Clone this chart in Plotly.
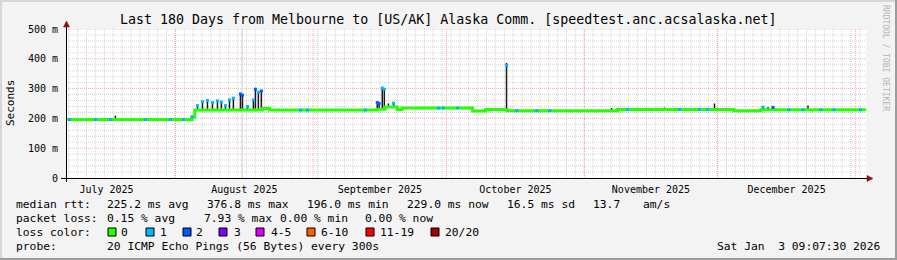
import pandas as pd
import plotly.graph_objects as go

# ---------------- data ----------------
title = "Last 180 Days from Melbourne to [US/AK] Alaska Comm. [speedtest.anc.acsalaska.net]"
x_start = "2025-07-07 09:07:30"
x_end = "2026-01-03 09:07:30"

month_starts = ["2025-08-01", "2025-09-01", "2025-10-01", "2025-11-01", "2025-12-01", "2026-01-01"]
month_label_pos = ["2025-07-16 12:00", "2025-08-16 12:00", "2025-09-16 00:00",
                   "2025-10-16 12:00", "2025-11-16 00:00", "2025-12-16 12:00"]
month_labels = ["July 2025", "August 2025", "September 2025", "October 2025",
                "November 2025", "December 2025"]
vrule_time = "2025-08-16 00:00"

y_ticks = [0, 100, 200, 300, 400, 500]
y_labels = ["0", "100 m", "200 m", "300 m", "400 m", "500 m"]

# median rtt (ms), step series
base_time = ["2025-07-07 09:07", "2025-08-04 18:00", "2025-08-05 09:00", "2025-08-20 14:00",
             "2025-08-22 04:00", "2025-09-15 10:00", "2025-09-17 04:00", "2025-09-19 21:00",
             "2025-09-21 00:00", "2025-10-06 21:00", "2025-10-09 19:00", "2025-10-14 14:00",
             "2025-11-08 11:00", "2025-12-04 15:00", "2025-12-10 17:00", "2026-01-03 09:07"]
base_rtt = [196, 205, 228, 233, 228, 231, 238, 230, 235, 225, 230, 226, 230, 226, 229, 229]

# spikes: time, base, peak (ms), loss class at peak
spike_time = ["2025-07-18 12:00", "2025-08-05 23:00", "2025-08-07 02:00", "2025-08-08 05:00",
              "2025-08-09 08:00", "2025-08-10 11:00", "2025-08-11 08:00", "2025-08-12 06:00",
              "2025-08-13 04:00", "2025-08-14 01:00", "2025-08-15 15:00", "2025-08-16 02:00",
              "2025-08-17 05:00", "2025-08-18 13:00", "2025-08-19 00:00", "2025-08-19 16:00",
              "2025-08-20 08:00", "2025-09-15 10:00", "2025-09-15 20:00", "2025-09-16 13:00",
              "2025-09-17 00:00", "2025-09-17 22:00", "2025-09-19 02:00", "2025-10-14 12:00",
              "2025-11-07 03:00", "2025-11-19 01:00", "2025-11-30 07:00", "2025-12-11 05:00",
              "2025-12-12 08:00", "2025-12-13 11:00", "2025-12-21 08:00"]
spike_base = [196, 228, 228, 228, 228, 228, 228, 228, 228, 228, 228, 228, 228, 228, 228, 228,
              228, 231, 231, 231, 231, 238, 238, 229, 226, 230, 230, 229, 229, 229, 229]
spike_peak = [207, 243, 256, 260, 253, 259, 255, 243, 262, 268, 282, 278, 240, 262, 298, 288,
              292, 253, 250, 302, 298, 248, 251, 377, 233, 234, 248, 238, 236, 237, 241]
spike_smoke_top = [209, 245, 258, 262, 255, 261, 257, 245, 264, 270, 285, 281, 242, 264, 301, 291,
                   295, 255, 252, 305, 301, 250, 253, 386, 235, 236, 250, 240, 238, 239, 243]
spike_loss = [0, 1, 1, 1, 1, 1, 1, 1, 1, 1, 2, 2, 1, 1, 2, 1,
              2, 2, 2, 1, 1, 0, 1, 1, 0, 0, 0, 1, 0, 2, 0]

# baseline samples with 1 lost ping
loss1_time = ["2025-07-08 04:00", "2025-07-14 00:00", "2025-07-17 10:00", "2025-07-25 06:00",
              "2025-07-30 21:00", "2025-08-02 19:00", "2025-08-04 18:00", "2025-08-29 03:00",
              "2025-08-30 17:00", "2025-09-12 17:00", "2025-09-29 05:00", "2025-09-30 07:00",
              "2025-10-03 12:00", "2025-10-16 19:00", "2025-10-21 07:00", "2025-10-24 05:00",
              "2025-11-10 17:00", "2025-11-22 10:00", "2025-11-26 22:00", "2025-11-28 17:00",
              "2025-12-17 00:00", "2025-12-20 04:00", "2025-12-24 05:00", "2025-12-27 04:00",
              "2026-01-02 03:00"]
loss1_rtt = [196, 196, 196, 196, 196, 196, 205, 228, 228, 228, 235, 235,
             235, 226, 226, 226, 230, 230, 230, 230, 229, 229, 229, 229, 229]

loss_colors = ["#26ff00", "#00b8ff", "#0059ff", "#7e00ff", "#dd00ff", "#ff5e00", "#ff0000", "#a00000"]
loss_names = ["0", "1", "2", "3", "4-5", "6-10", "11-19", "20/20"]

legend_rtt = [("median rtt:", 16), ("225.2 ms avg", 107), ("376.8 ms max", 207),
              ("196.0 ms min", 307), ("229.0 ms now", 407), ("16.5 ms sd", 507),
              ("13.7", 593), ("am/s", 643)]
legend_loss = [("packet loss:", 16), ("0.15 % avg", 107), ("7.93 % max", 204),
               ("0.00 % min", 280), ("0.00 % now", 365)]
probe_text = "20 ICMP Echo Pings (56 Bytes) every 300s"
date_text = "Sat Jan\u00a0\u00a03 09:07:30 2026"

# ---------------- layout helpers (pixel -> paper) ----------------
L, R, T, B = 66, 31, 29, 82
W, H = 897, 260
PW, PH = W - L - R, H - T - B


def px(x):
    return (x - L) / PW


def py(y):
    return (T + PH - y) / PH


FONT = "DejaVu Sans Mono"

# grid positions (axis features)
minor_x = list(pd.date_range("2025-07-08", "2026-01-03", freq="2D").strftime("%Y-%m-%d"))
minor_y = [v for v in range(20, 500, 20) if v % 100]

fig = go.Figure()

# smoke spikes
sx, sy = [], []
for t, b, p in zip(spike_time, spike_base, spike_smoke_top):
    sx += [t, t, None]
    sy += [b, p, None]
fig.add_trace(go.Scatter(x=sx, y=sy, mode="lines", line=dict(color="#1a1a1a", width=1.5),
                         hoverinfo="skip"))

# median line
fig.add_trace(go.Scatter(x=base_time, y=base_rtt, mode="lines",
                         line=dict(color=loss_colors[0], width=3, shape="hv")))

# loss patches on baseline
fig.add_trace(go.Scatter(x=loss1_time, y=loss1_rtt, mode="markers",
                         marker=dict(symbol="square", size=3, color=loss_colors[1], line_width=0)))

# spike peaks coloured by loss
pk_t = [t for t, l in zip(spike_time, spike_loss) if l > 0]
pk_v = [v for v, l in zip(spike_peak, spike_loss) if l > 0]
pk_c = [loss_colors[l] for l in spike_loss if l > 0]
fig.add_trace(go.Scatter(x=pk_t, y=pk_v, mode="markers",
                         marker=dict(symbol="square", size=3, color=pk_c, line_width=0)))

MINOR = "rgba(175,175,175,0.55)"
MAJOR = "rgba(240,120,120,0.6)"
shapes = []
for m in minor_x:
    shapes.append(dict(type="line", xref="x", yref="paper", x0=m, x1=m, y0=0, y1=1,
                       line=dict(color=MINOR, width=1, dash="1px,1px"), layer="below"))
for v in minor_y:
    shapes.append(dict(type="line", xref="paper", yref="y", x0=0, x1=1, y0=v, y1=v,
                       line=dict(color=MINOR, width=1, dash="1px,1px"), layer="below"))
for m in month_starts:
    shapes.append(dict(type="line", xref="x", yref="paper", x0=m, x1=m, y0=0, y1=1,
                       line=dict(color=MAJOR, width=1, dash="1px,1px"), layer="below"))
for v in y_ticks[1:]:
    shapes.append(dict(type="line", xref="paper", yref="y", x0=0, x1=1, y0=v, y1=v,
                       line=dict(color=MAJOR, width=1, dash="1px,1px"), layer="below"))
shapes.append(dict(type="line", xref="x", yref="paper", x0=vrule_time, x1=vrule_time, y0=0, y1=1,
                   line=dict(color="rgba(205,205,205,0.9)", width=1.2), layer="below"))

# axes with arrows
shapes.append(dict(type="line", xref="paper", yref="paper", x0=px(61), x1=px(869), y0=py(178.5), y1=py(178.5),
                   line=dict(color="black", width=1)))
shapes.append(dict(type="line", xref="paper", yref="paper", x0=px(66.5), x1=px(66.5), y0=py(182), y1=py(24),
                   line=dict(color="black", width=1)))
shapes.append(dict(type="path", xref="paper", yref="paper",
                   path=f"M {px(867)} {py(175.5)} L {px(873)} {py(178.5)} L {px(867)} {py(181.5)} Z",
                   fillcolor="#8b1010", line=dict(color="#8b1010", width=0.5)))
shapes.append(dict(type="path", xref="paper", yref="paper",
                   path=f"M {px(63.5)} {py(27)} L {px(66.5)} {py(21)} L {px(69.5)} {py(27)} Z",
                   fillcolor="#8b1010", line=dict(color="#8b1010", width=0.5)))

# frame
shapes.append(dict(type="line", xref="paper", yref="paper", x0=px(0), x1=px(897), y0=py(1), y1=py(1),
                   line=dict(color="#d6d6d6", width=2)))
shapes.append(dict(type="line", xref="paper", yref="paper", x0=px(1), x1=px(1), y0=py(0), y1=py(260),
                   line=dict(color="#d6d6d6", width=2)))
shapes.append(dict(type="line", xref="paper", yref="paper", x0=px(0), x1=px(897), y0=py(259), y1=py(259),
                   line=dict(color="#9c9c9c", width=2)))
shapes.append(dict(type="line", xref="paper", yref="paper", x0=px(896), x1=px(896), y0=py(0), y1=py(260),
                   line=dict(color="#9c9c9c", width=2)))

# legend boxes
box_left = [108, 146, 183, 219, 256, 307, 366, 431]
label_left = [121, 160, 196, 234, 271, 321, 380, 445]
for bl, c in zip(box_left, loss_colors):
    shapes.append(dict(type="rect", xref="paper", yref="paper", x0=px(bl), x1=px(bl + 8),
                       y0=py(236), y1=py(228), fillcolor=c, line=dict(color="black", width=1)))

ann = []
ann.append(dict(text=title, x=px(448), y=py(19), xref="paper", yref="paper", showarrow=False,
                xanchor="center", yanchor="middle", font=dict(family=FONT, size=13.3, color="black")))
ann.append(dict(text="Seconds", x=px(11), y=py(103), xref="paper", yref="paper", showarrow=False,
                textangle=-90, xanchor="center", yanchor="middle",
                font=dict(family=FONT, size=11, color="black")))
ann.append(dict(text="RRDTOOL / TOBI OETIKER", x=px(886), y=py(58), xref="paper", yref="paper",
                showarrow=False, textangle=90, xanchor="center", yanchor="middle",
                font=dict(family=FONT, size=8, color="#b4b4b4")))


def txt(s, x, y, anchor="left"):
    ann.append(dict(text=s, x=px(x - 2 if anchor == "left" else x), y=py(y), xref="paper", yref="paper",
                    showarrow=False, xanchor=anchor, yanchor="middle",
                    font=dict(family=FONT, size=11.3, color="black")))


for s, x in legend_rtt:
    txt(s, x, 204)
for s, x in legend_loss:
    txt(s, x, 218)
txt("loss color:", 16, 232)
for s, x in zip(loss_names, label_left):
    txt(s, x, 232)
txt("probe:", 16, 246)
txt(probe_text, 107, 246)
txt(date_text, 882, 246, anchor="right")

fig.update_layout(
    width=W, height=H, margin=dict(l=L, r=R, t=T, b=B, pad=0),
    paper_bgcolor="#f3f3f3", plot_bgcolor="white", showlegend=False,
    font=dict(family=FONT, size=10, color="black"),
    shapes=shapes, annotations=ann,
    xaxis=dict(range=[x_start, x_end], type="date", tickmode="array", tickvals=month_label_pos,
               ticktext=month_labels, showgrid=False, zeroline=False, showline=False,
               ticks="outside", ticklen=2, tickcolor="rgba(0,0,0,0)",
               tickfont=dict(family=FONT, size=10, color="black")),
    yaxis=dict(range=[0, 500], tickmode="array", tickvals=y_ticks, ticktext=y_labels,
               showgrid=False, zeroline=False, showline=False, ticks="outside", ticklen=5,
               tickcolor="rgba(0,0,0,0)",
               tickfont=dict(family=FONT, size=10, color="black")),
)

fig.write_html("out.html")
